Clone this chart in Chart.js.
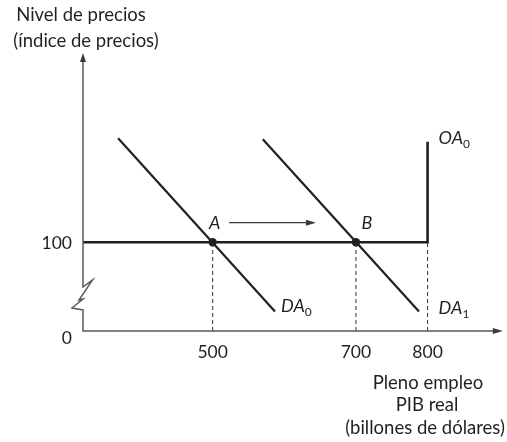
<!DOCTYPE html>
<html>
<head>
<meta charset="utf-8">
<script src="https://cdn.jsdelivr.net/npm/chart.js@4"></script>
<style>
  html, body { margin: 0; padding: 0; background: #fff; }
  #wrap { width: 507px; height: 442px; }
</style>
</head>
<body>
<div id="wrap"><canvas id="chart" width="507" height="442"></canvas></div>
<script>
// Axis range and ticks (schematic scale)
const xMin = 319, xMax = 905;
const yMin = 0, yMax = 313;
const xTicks = [500, 700, 800];
const yTicks = [0, 100];

// Curves
const oaCurve = [{ x: 319, y: 100 }, { x: 800, y: 100 }, { x: 800, y: 213 }];
const da0 = [{ x: 368, y: 217 }, { x: 587, y: 22 }];
const da1 = [{ x: 570, y: 216 }, { x: 788, y: 22 }];
const equilibria = [{ x: 500, y: 100 }, { x: 700, y: 100 }];
const equilibriumNames = ['A', 'B'];
const shiftArrow = [{ x: 523, y: 122 }, { x: 640, y: 122 }];
const dropLines = [
  [{ x: 500, y: 0 }, { x: 500, y: 100 }],
  [{ x: 700, y: 0 }, { x: 700, y: 100 }],
  [{ x: 800, y: 0 }, { x: 800, y: 100 }]
];

const FONT = 'Lato';
const INK = '#231f20';

function arrowHead(ctx, x, y, dir, len, half) {
  ctx.beginPath();
  if (dir === 'up') {
    ctx.moveTo(x, y); ctx.lineTo(x - half, y + len); ctx.lineTo(x + half, y + len);
  } else {
    ctx.moveTo(x, y); ctx.lineTo(x - len, y - half); ctx.lineTo(x - len, y + half);
  }
  ctx.closePath();
  ctx.fill();
}

function subLabel(ctx, main, sub, x, y) {
  ctx.textAlign = 'left';
  ctx.textBaseline = 'middle';
  ctx.font = 'italic 18px ' + FONT;
  ctx.fillText(main, x, y);
  const w = ctx.measureText(main).width;
  ctx.font = '12px ' + FONT;
  ctx.fillText(sub, x + w, y + 6);
}

const decor = {
  id: 'decor',
  afterDatasetsDraw(chart) {
    const ctx = chart.ctx;
    const xs = chart.scales.x, ys = chart.scales.y;
    const left = xs.getPixelForValue(xMin);
    const bottom = ys.getPixelForValue(yMin);
    const top = ys.getPixelForValue(yMax);
    const right = xs.getPixelForValue(xMax);
    ctx.save();

    // axes
    ctx.strokeStyle = '#5a5a5a';
    ctx.fillStyle = '#3a3a3a';
    ctx.lineWidth = 1.5;
    ctx.beginPath();
    ctx.moveTo(left, top + 4);
    ctx.lineTo(left, bottom - 44);
    ctx.lineTo(left + 9.5, bottom - 51);
    ctx.lineTo(left - 4, bottom - 31);
    ctx.lineTo(left, bottom - 32);
    ctx.lineTo(left - 11, bottom - 23);
    ctx.lineTo(left, bottom - 21);
    ctx.lineTo(left, bottom);
    ctx.lineTo(right - 4, bottom);
    ctx.stroke();
    arrowHead(ctx, left, top, 'up', 9, 3);
    arrowHead(ctx, right, bottom, 'right', 10, 3);

    // shift arrow A -> B
    const ax = xs.getPixelForValue(shiftArrow[1].x);
    const ay = ys.getPixelForValue(shiftArrow[1].y);
    arrowHead(ctx, ax + 3, ay, 'right', 10, 3);

    ctx.fillStyle = INK;
    ctx.textBaseline = 'middle';

    // tick labels
    ctx.font = '17.5px ' + FONT;
    ctx.textAlign = 'center';
    xTicks.forEach(v => ctx.fillText(String(v), xs.getPixelForValue(v), bottom + 21));
    ctx.textAlign = 'right';
    yTicks.forEach(v => {
      const py = ys.getPixelForValue(v);
      ctx.fillText(String(v), left - 11, v === 0 ? py + 7 : py + 1);
    });

    // axis titles
    ctx.font = '18.5px ' + FONT;
    ctx.textAlign = 'center';
    ctx.fillText('Nivel de precios', 81, 15);
    ctx.fillText('(índice de precios)', 86, 41);
    ctx.fillText('Pleno empleo', 428, 383);
    ctx.fillText('PIB real', 427, 405);
    ctx.fillText('(billones de dólares)', 425, 428);

    // point names
    ctx.font = 'italic 18px ' + FONT;
    equilibria.forEach((p, i) => {
      ctx.fillText(equilibriumNames[i], xs.getPixelForValue(p.x) + 2 + i * 9, ys.getPixelForValue(p.y) - 19);
    });

    // curve names
    subLabel(ctx, 'OA', '0', xs.getPixelForValue(800) + 11, ys.getPixelForValue(oaCurve[2].y) - 4);
    subLabel(ctx, 'DA', '0', xs.getPixelForValue(da0[1].x) + 6, ys.getPixelForValue(da0[1].y) - 5);
    subLabel(ctx, 'DA', '1', xs.getPixelForValue(800) + 11, ys.getPixelForValue(da1[1].y) - 3);

    ctx.restore();
  }
};

const lineSet = (data, width, extra) => Object.assign({
  data: data,
  showLine: true,
  borderColor: INK,
  borderWidth: width,
  pointRadius: 0,
  fill: false,
  tension: 0
}, extra || {});

const datasets = [
  ...dropLines.map(d => lineSet(d, 1, { borderDash: [4, 3], borderColor: '#333' })),
  lineSet(shiftArrow, 1.3, { borderColor: '#3a3a3a' }),
  lineSet(oaCurve, 2.6, { borderJoinStyle: 'miter' }),
  lineSet(da0, 2.2),
  lineSet(da1, 2.2),
  {
    data: equilibria,
    showLine: false,
    pointRadius: 4.2,
    pointBackgroundColor: INK,
    pointBorderColor: INK,
    pointBorderWidth: 0
  }
];

new Chart(document.getElementById('chart'), {
  type: 'scatter',
  data: { datasets: datasets },
  options: {
    responsive: false,
    animation: false,
    events: [],
    layout: { padding: { left: 83, right: 4, top: 53, bottom: 111 } },
    plugins: { legend: { display: false }, tooltip: { enabled: false } },
    scales: {
      x: { type: 'linear', min: xMin, max: xMax, display: false },
      y: { type: 'linear', min: yMin, max: yMax, display: false }
    }
  },
  plugins: [decor]
});
</script>
</body>
</html>
